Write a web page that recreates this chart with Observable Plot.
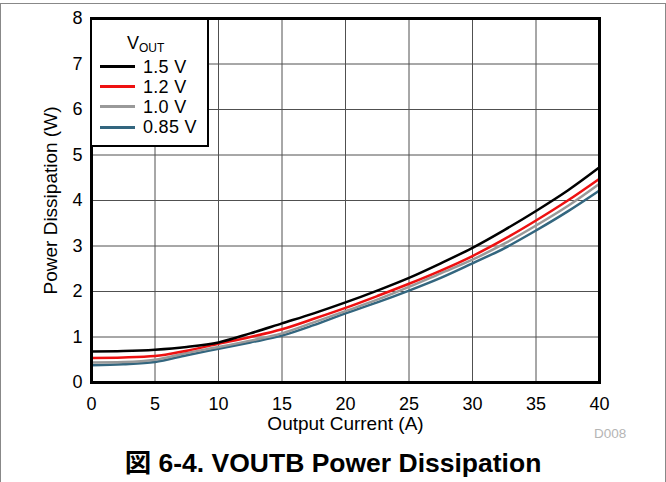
<!DOCTYPE html>
<html>
<head>
<meta charset="utf-8">
<script src="https://cdn.jsdelivr.net/npm/d3@7"></script>
<script src="https://cdn.jsdelivr.net/npm/@observablehq/plot@0.6"></script>
<style>
  html, body { margin: 0; padding: 0; background: #fff; }
  #wrap { position: relative; width: 666px; height: 482px; overflow: hidden; font-family: "Liberation Sans", Arial, sans-serif; }
  #border { position: absolute; left: 0; top: 3px; width: 664px; height: 490px; border: 1px solid #888; }
  #chart { position: absolute; left: 0; top: 0; }
  #legend { position: absolute; left: 90px; top: 18px; width: 115px; height: 125px; background: #fff; border: 2.5px solid #000; font-size: 18px; color: #000; }
  #legend .hd { position: absolute; left: 35px; top: 13px; line-height: 20px; white-space: nowrap; }
  #legend .hd sub { font-size: 12px; vertical-align: -3px; }
  #legend .row { position: absolute; left: 0; height: 20px; width: 115px; }
  #legend .sw { position: absolute; left: 7.5px; top: 8.5px; width: 35px; height: 3px; }
  #legend .lb { position: absolute; left: 51px; top: 0; line-height: 20px; white-space: nowrap; letter-spacing: 0.3px; }
  #d008 { position: absolute; left: 594px; top: 426px; font-size: 13.5px; color: #b5b5b5; }
  #title { position: absolute; left: 0; width: 666px; top: 448px; text-align: center; font-size: 26.5px; line-height: 30px; font-weight: bold; font-family: "Liberation Sans", "Noto Sans CJK JP", sans-serif; }
</style>
</head>
<body>
<div id="wrap">
  <div id="border"></div>
  <div id="chart"></div>
  <div id="legend"></div>
  <div id="d008">D008</div>
  <div id="title">図 6-4. VOUTB Power Dissipation</div>
</div>
<script>
const current = [0, 2.5, 5, 7.5, 10, 12.5, 15, 17.5, 20, 22.5, 25, 27.5, 30, 32.5, 35, 37.5, 40];
const v150 = [0.68, 0.69, 0.72, 0.78, 0.88, 1.08, 1.30, 1.52, 1.76, 2.02, 2.30, 2.62, 2.96, 3.35, 3.77, 4.22, 4.73];
const v120 = [0.54, 0.55, 0.58, 0.70, 0.85, 1.00, 1.17, 1.40, 1.64, 1.90, 2.17, 2.46, 2.78, 3.15, 3.56, 4.00, 4.48];
const v100 = [0.44, 0.45, 0.50, 0.65, 0.78, 0.92, 1.08, 1.32, 1.57, 1.82, 2.10, 2.40, 2.70, 3.05, 3.45, 3.88, 4.37];
const v085 = [0.38, 0.40, 0.45, 0.60, 0.74, 0.88, 1.03, 1.26, 1.52, 1.76, 2.02, 2.30, 2.62, 2.95, 3.34, 3.76, 4.22];
const seriesNames = ["1.5 V", "1.2 V", "1.0 V", "0.85 V"];
const seriesColors = ["#000000", "#ee1111", "#999999", "#33667f"];
const xTicks = [0, 5, 10, 15, 20, 25, 30, 35, 40];
const yTicks = [0, 1, 2, 3, 4, 5, 6, 7, 8];

const seriesValues = [v150, v120, v100, v085];
const data = [];
seriesNames.forEach((name, i) => {
  current.forEach((c, j) => data.push({series: name, x: c, y: seriesValues[i][j]}));
});

// draw 0.85 V first so 1.5 V is on top
const order = [...seriesNames].reverse();

const plot = Plot.plot({
  width: 666,
  height: 440,
  marginTop: 18,
  marginBottom: 58,
  marginLeft: 91,
  marginRight: 67,
  style: { fontFamily: "Liberation Sans, Arial, sans-serif", fontSize: "18px", color: "#000", background: "transparent" },
  x: { domain: [0, 40] },
  y: { domain: [0, 8] },
  color: { domain: seriesNames, range: seriesColors },
  marks: [
    Plot.gridX(xTicks, { stroke: "#505050", strokeOpacity: 1, strokeWidth: 1 }),
    Plot.gridY(yTicks, { stroke: "#505050", strokeOpacity: 1, strokeWidth: 1 }),
    Plot.axisX(xTicks, { tickSize: 0, tickPadding: 15, fontSize: 18, label: null }),
    Plot.axisX({ ticks: [], tickSize: 0, fontSize: 19, label: "Output Current (A)", labelAnchor: "center", labelOffset: 47, labelArrow: "none" }),
    Plot.axisY(yTicks, { tickSize: 0, tickPadding: 9, fontSize: 18, label: null }),
    Plot.axisY({ ticks: [], tickSize: 0, fontSize: 19, label: "Power Dissipation (W)", labelAnchor: "center", labelOffset: 48, labelArrow: "none" }),
    ...order.map(name => Plot.line(data.filter(d => d.series === name), { x: "x", y: "y", stroke: "series", strokeWidth: 2.5, curve: "monotone-x" })),
    Plot.frame({ stroke: "#000", strokeWidth: 3 })
  ]
});
document.getElementById("chart").appendChild(plot);

const legend = document.getElementById("legend");
legend.innerHTML = '<div class="hd">V<sub>OUT</sub></div>';
const rowCenters = [46.5, 66.5, 86.5, 107];
seriesNames.forEach((name, i) => {
  const row = document.createElement("div");
  row.className = "row";
  row.style.top = (rowCenters[i] - 10) + "px";
  row.innerHTML = '<div class="sw" style="background:' + seriesColors[i] + '"></div><div class="lb">' + name + '</div>';
  legend.appendChild(row);
});
</script>
</body>
</html>
